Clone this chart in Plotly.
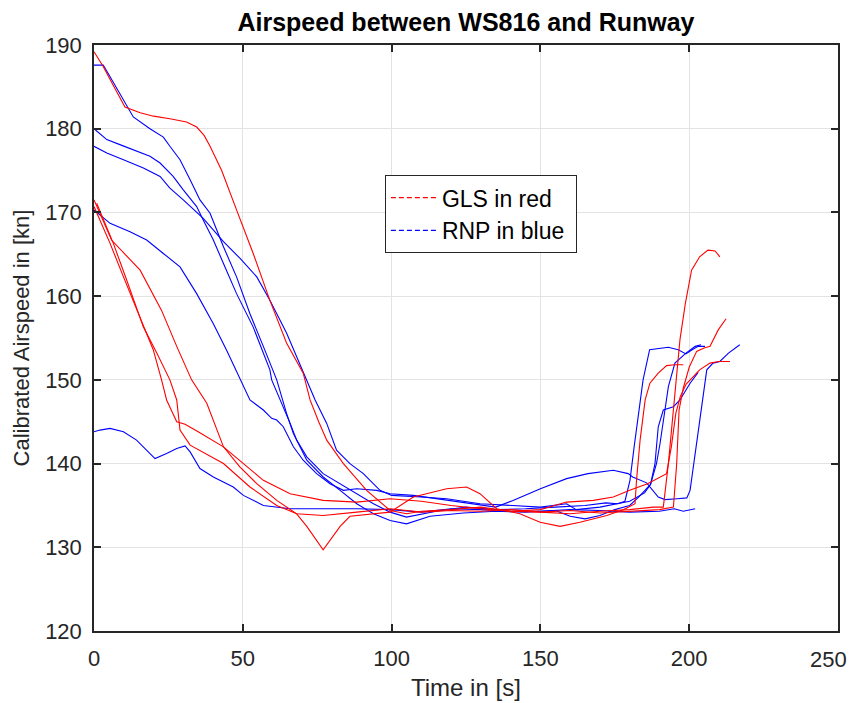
import plotly.graph_objects as go

# ---- data (time in s, calibrated airspeed in kn) ----
gls_1_t = [0, 3, 6, 10.4, 15.5, 20, 25.5, 31.1, 34.5, 37, 39, 42.9, 47.9, 51.9, 53.5, 59.1, 64.7, 70.3, 72.6, 75.5, 78.2, 83.8, 91.6, 99.5, 105, 110, 120, 130, 140, 150, 160, 170, 180, 188, 191.3, 193, 195.2, 196.9, 198.7, 200.8, 203.5, 206.3, 208.7, 210.3]
gls_1_v = [189.2, 187.5, 185.5, 182.6, 181.9, 181.5, 181.2, 180.8, 180.2, 179.2, 177.9, 175, 170.3, 166.7, 165.1, 159.5, 154.4, 150.8, 147.6, 145, 142.8, 140, 136.8, 134.4, 134, 134.3, 134.5, 134.8, 134.3, 134.2, 134, 134.3, 134.5, 134.8, 134.8, 140, 148, 154.8, 159.1, 163.1, 164.7, 165.5, 165.4, 164.7]

gls_2_t = [0, 5.4, 9.9, 15.5, 19.9, 22.7, 24.4, 27.8, 30.6, 35, 43.5, 50.2, 56.9, 65.9, 77, 88.3, 99.5, 110, 120, 130, 140, 150, 158.8, 167.8, 174.5, 180, 186, 192.4, 194, 195.5, 197, 199, 203.5, 207, 210, 213.7]
gls_2_v = [170.7, 166.3, 162.3, 157.5, 153.6, 150, 147.6, 145, 144.7, 143.8, 142, 140, 138, 136.4, 135.6, 135.4, 135.8, 135.5, 135, 134.6, 134.3, 134.5, 135.4, 135.6, 136, 136.8, 137.6, 138.8, 142, 146, 148, 149.5, 151.2, 152, 152.2, 152.2]

gls_3_t = [0.9, 6.5, 11, 16.6, 21.1, 25.5, 27.8, 28.9, 32.3, 43.5, 52.4, 61.4, 68.1, 77, 88.3, 99.5, 110, 120, 130, 140, 150, 160, 170, 180, 190, 194.7, 195.8, 196.6, 198, 200, 202.5, 205, 207, 209.8, 212.4]
gls_3_v = [171.1, 166.3, 161.9, 156.3, 153.2, 150, 147.6, 144, 142.2, 140, 137.2, 135, 134, 133.8, 134.2, 134.6, 134.2, 134.4, 134.3, 134.5, 134.2, 134.4, 134.1, 134.3, 134.5, 134.8, 140, 146.4, 149, 151.5, 153.4, 153.8, 154, 156, 157.3]

gls_4_t = [0, 5.9, 15.5, 22.7, 27.8, 32.8, 37.9, 41.2, 43.5, 49, 54.7, 61.4, 68.1, 71.5, 77, 82.7, 86, 99.5, 107.3, 118.5, 125.2, 129.7, 135.3, 143.1, 149.9, 156.6, 163.3, 172.3, 178, 181.8, 182.3, 183.5, 185.2, 186.8, 189.6, 192.4, 195, 198]
gls_4_v = [171.5, 166.7, 163.1, 158.3, 154, 150, 147.2, 144, 142, 139.6, 137.6, 135.6, 134, 132.5, 129.7, 132.5, 133.7, 134.2, 136, 137, 137.2, 136.4, 134.6, 134, 133, 132.5, 133, 133.8, 134.5, 135.2, 138, 142.8, 147.6, 149.6, 150.8, 151.7, 151.8, 151.8]

rnp_1_t = [0, 3.1, 5.4, 9.9, 13.2, 18.8, 23.3, 25.5, 28.9, 32.3, 35.6, 39, 43.5, 47.9, 52.4, 56.9, 61.4, 64.7, 67, 71.5, 77, 82.7, 88.3, 93.9, 99.5, 105, 112.9, 124.1, 135, 145, 155, 160, 165, 170, 175, 180, 183, 187, 189, 190.2, 193, 195.2, 196.9, 198.9, 202, 204]
rnp_1_v = [187.6, 187.6, 186.2, 183.4, 181.4, 180, 179, 177.9, 176.3, 173.9, 171.5, 169.9, 165.9, 162.3, 157.9, 154, 150, 146, 143.6, 140.4, 138.4, 136.8, 135.2, 134, 133.2, 132.8, 133.7, 134.1, 134.3, 134.2, 134.4, 133.7, 133.4, 133.8, 134.5, 135, 136, 137.5, 140, 142.4, 149.2, 152, 152.6, 153.2, 154, 154.2]

rnp_2_t = [0, 4.3, 8.7, 13.2, 18.8, 22.2, 26.6, 30, 34.5, 36.7, 40.1, 43.5, 47.9, 53.5, 59.1, 59.7, 63.6, 65.9, 68.1, 71.5, 77, 82.7, 88.3, 93.9, 99.5, 105, 115, 125, 135, 145, 155, 165, 172, 176, 178.4, 180.1, 181.5, 183, 184.5, 186.7, 190, 193, 196.3, 198.9, 201, 203, 205.3]
rnp_2_v = [180, 178.7, 178.1, 177.5, 176.7, 175.9, 174.3, 172.7, 170.7, 169.1, 166.7, 163.9, 160.3, 156.3, 151.2, 150, 146.8, 144.8, 142.8, 140.8, 138.8, 137.6, 136.4, 135.2, 134.2, 133.6, 134.3, 134.8, 134.5, 134.6, 134.8, 135, 135.3, 135.2, 135.5, 138, 142, 146, 150, 153.6, 153.8, 153.9, 153.6, 153.1, 153.6, 154, 154]

rnp_3_t = [0, 4.3, 9.9, 16.6, 22.2, 25.5, 30, 36.7, 43.5, 49.1, 54.7, 59.1, 64.7, 70.3, 74.3, 78.2, 81.5, 86, 90.5, 96.1, 100, 110, 118.5, 129.7, 140, 150, 158.8, 162, 170, 180, 185, 187, 188.5, 189.6, 191.3, 194.7, 196.9, 200.3, 203]
rnp_3_v = [177.9, 177.1, 176.3, 175.3, 174.3, 172.9, 171.5, 169.3, 166.5, 164.5, 162.3, 159.5, 155.6, 150.8, 147.6, 144.8, 141.6, 140, 138.8, 136.8, 136.2, 136, 135.8, 135.2, 135, 134.8, 135.2, 134.5, 134.8, 135.5, 136.5, 137.5, 140, 144.4, 146.4, 146.8, 147.6, 149.6, 150.9]

rnp_4_t = [0, 5.4, 12.1, 17.7, 23.3, 28.9, 34.5, 40.1, 44.6, 49.1, 52.4, 56.9, 59.7, 61.4, 63.6, 67, 70.3, 74.8, 79.3, 83.8, 88.3, 95, 99.5, 107.3, 118.5, 129.7, 135, 140.8, 150, 158.8, 166, 174.5, 179.5, 181, 185.7, 189.6, 191.9, 196, 199.2, 200.3, 201.5, 203, 205.9, 208, 210.3, 213.2, 217]
rnp_4_v = [170.3, 168.7, 167.7, 166.7, 165.1, 163.5, 160.3, 156.7, 153.5, 150, 147.6, 146.4, 145.4, 145.2, 144.4, 142, 140.4, 138.8, 137.6, 136.8, 137, 136.8, 136.4, 136.2, 135.6, 135, 134.8, 135.6, 137, 138.2, 138.8, 139.2, 138.8, 138.4, 137.7, 136, 135.7, 135.8, 135.9, 136.8, 140, 144, 151.2, 152, 152.2, 153.2, 154.2]

rnp_5_t = [0, 2, 5.4, 9.9, 14.3, 17.7, 20.5, 24.4, 27.8, 30.6, 32.3, 35.6, 40.1, 46.8, 50.2, 56.9, 65.9, 77, 88.3, 99.5, 110, 120, 130, 140, 150, 160, 170, 180, 190, 195, 198, 202]
rnp_5_v = [143.8, 144, 144.2, 143.8, 142.8, 141.6, 140.6, 141.2, 141.8, 142.1, 141.4, 139.4, 138.4, 137.2, 136.2, 135, 134.6, 134.6, 134.6, 134.5, 134.2, 134.6, 134.5, 134.3, 134.3, 134.5, 134.4, 134.2, 134.3, 134.6, 134.3, 134.6]

x_ticks = [0, 50, 100, 150, 200, 250]
y_ticks = [120, 130, 140, 150, 160, 170, 180, 190]

gls = [(gls_1_t, gls_1_v), (gls_2_t, gls_2_v), (gls_3_t, gls_3_v), (gls_4_t, gls_4_v)]
rnp = [(rnp_1_t, rnp_1_v), (rnp_2_t, rnp_2_v), (rnp_3_t, rnp_3_v), (rnp_4_t, rnp_4_v), (rnp_5_t, rnp_5_v)]

RED = "#ff0000"
BLUE = "#0000ff"
AX = "#262626"
FONT = "Liberation Sans, Arial, sans-serif"

fig = go.Figure()
for t, v in rnp:
    fig.add_trace(go.Scatter(x=t, y=v, mode="lines", line=dict(color=BLUE, width=1.1),
                             showlegend=False, hoverinfo="skip"))
for t, v in gls:
    fig.add_trace(go.Scatter(x=t, y=v, mode="lines", line=dict(color=RED, width=1.1),
                             showlegend=False, hoverinfo="skip"))

# legend entries (dashed samples as in the original)
fig.add_trace(go.Scatter(x=[None], y=[None], mode="lines", name="GLS in red\u00a0",
                         line=dict(color=RED, width=1.2, dash="5px,3px")))
fig.add_trace(go.Scatter(x=[None], y=[None], mode="lines", name="RNP in blue\u00a0",
                         line=dict(color=BLUE, width=1.2, dash="5px,3px")))

axis_common = dict(
    showgrid=True, gridcolor="#e3e3e3", gridwidth=1, automargin=False,
    zeroline=False, showline=True, linecolor=AX, linewidth=1.5,
    mirror="ticks", ticks="inside", ticklen=7, tickwidth=1.5, tickcolor=AX,
    tickfont=dict(family=FONT, size=22, color=AX), ticklabeloverflow="allow",
)

# last x tick label is placed as an annotation so it stays inside the visible page
x_ticktext = [str(v) for v in x_ticks[:-1]] + [""]
fig.update_xaxes(range=[0, 250], tickvals=x_ticks, ticktext=x_ticktext,
                 ticklabelstandoff=7, **axis_common)
fig.update_yaxes(range=[120, 190], tickvals=y_ticks, ticktext=[str(v) for v in y_ticks],
                 ticklabelstandoff=6,
                 title=dict(text="Calibrated Airspeed in [kn]", font=dict(family=FONT, size=22, color=AX), standoff=9),
                 **axis_common)

fig.add_annotation(x=x_ticks[-1], xref="x", y=0, yref="paper", text=str(x_ticks[-1]),
                   showarrow=False, xanchor="right", yanchor="top", xshift=11, yshift=-14,
                   font=dict(family=FONT, size=22, color=AX))
fig.add_annotation(x=0.5, xref="paper", y=0, yref="paper", text="Time in [s]",
                   showarrow=False, xanchor="center", yanchor="middle", yshift=-56,
                   font=dict(family=FONT, size=24, color=AX))

# page has an 8px body margin; figure sized so plot area lands at x 94..838, y 45..631
fig.update_layout(
    width=850, height=695,
    paper_bgcolor="white", plot_bgcolor="white",
    margin=dict(l=86, r=20, t=37, b=72),
    title=dict(text="<b>Airspeed between WS816 and Runway</b>", x=0.5388, xanchor="center",
               y=0.9798, yanchor="middle",
               font=dict(family=FONT, size=25, color="black")),
    legend=dict(x=0.391, y=0.778, xanchor="left", yanchor="top",
                bgcolor="white", bordercolor=AX, borderwidth=1,
                font=dict(family=FONT, size=23, color="black"),
                itemwidth=46, tracegroupgap=0),
    showlegend=True,
)

fig.write_html("out.html")
